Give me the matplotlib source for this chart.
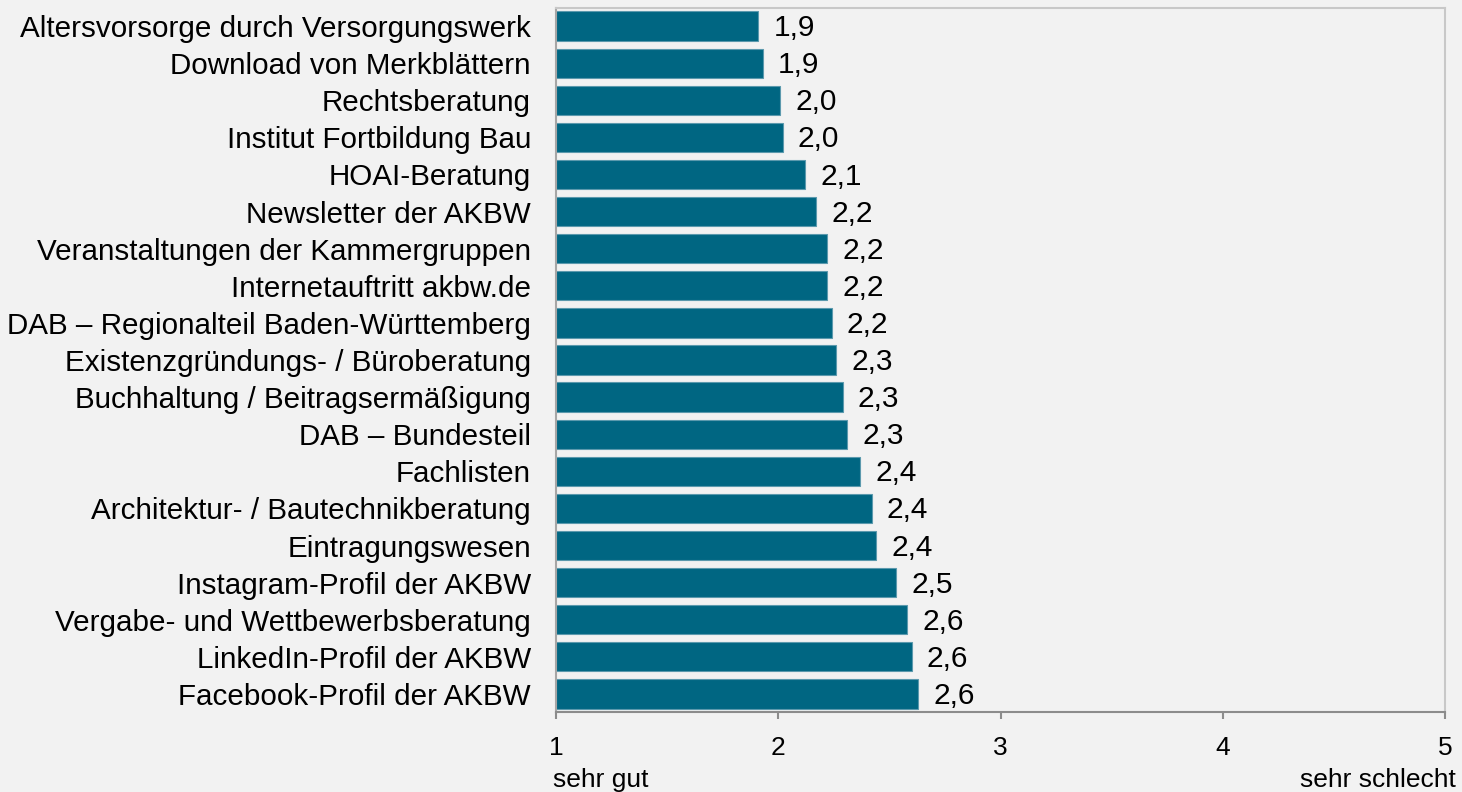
import matplotlib
matplotlib.use("Agg")
from matplotlib import pyplot as plt
import numpy as np

plt.rcParams['font.family'] = ['Liberation Sans', 'DejaVu Sans']

# ---- data (top to bottom) ----
categories = [
    "Altersvorsorge durch Versorgungswerk",
    "Download von Merkblättern",
    "Rechtsberatung",
    "Institut Fortbildung Bau",
    "HOAI-Beratung",
    "Newsletter der AKBW",
    "Veranstaltungen der Kammergruppen",
    "Internetauftritt akbw.de",
    "DAB – Regionalteil Baden-Württemberg",
    "Existenzgründungs- / Büroberatung",
    "Buchhaltung / Beitragsermäßigung",
    "DAB – Bundesteil",
    "Fachlisten",
    "Architektur- / Bautechnikberatung",
    "Eintragungswesen",
    "Instagram-Profil der AKBW",
    "Vergabe- und Wettbewerbsberatung",
    "LinkedIn-Profil der AKBW",
    "Facebook-Profil der AKBW",
]
scores = [1.91, 1.93, 2.01, 2.02, 2.12, 2.17, 2.22, 2.22, 2.24, 2.26,
          2.29, 2.31, 2.37, 2.42, 2.44, 2.53, 2.58, 2.60, 2.63]
x_ticks = [1, 2, 3, 4, 5]
x_left_label = "sehr gut"
x_right_label = "sehr schlecht"

bg = '#f2f2f2'
bar_color = '#006682'

fig = plt.figure(figsize=(14.62, 7.92), dpi=100, facecolor=bg)
ax = fig.add_axes([0.3803, 0.1004, 0.6081, 0.8901], facecolor=bg)

y = np.arange(len(categories))
ax.barh(y, np.array(scores) - 1, left=1, height=0.79, color=bar_color,
        edgecolor='#5b99ad', linewidth=0.8)

# value labels with german decimal comma
for yi, s in zip(y, scores):
    ax.annotate(f"{s:.1f}".replace('.', ','), xy=(s, yi), xytext=(11, -1.5),
                textcoords='offset points', ha='left', va='center',
                fontsize=21.5, color='black')

ax.set_xlim(1, 5)
ax.set_ylim(len(categories) - 0.5, -0.5)
ax.set_yticks(y)
ax.set_yticklabels(categories, fontsize=21.3)
ax.tick_params(axis='y', length=0, pad=18)
ax.set_xticks(x_ticks)
ax.set_xticklabels([str(t) for t in x_ticks], fontsize=19)
ax.tick_params(axis='x', length=5, width=1.5, color='#8c8c8c', pad=12)

ax.spines['top'].set_color('#c8c8c8')
ax.spines['right'].set_color('#c8c8c8')
ax.spines['left'].set_color('#a6a6a6')
ax.spines['bottom'].set_color('#8c8c8c')
for sp in ax.spines.values():
    sp.set_linewidth(1.5)

fig.text(553 / 1462, 1 - 787 / 792, x_left_label, ha='left', va='baseline', fontsize=19)
fig.text(1456 / 1462, 1 - 787 / 792, x_right_label, ha='right', va='baseline', fontsize=19)

fig.savefig('out.png', dpi=100, facecolor=bg)
